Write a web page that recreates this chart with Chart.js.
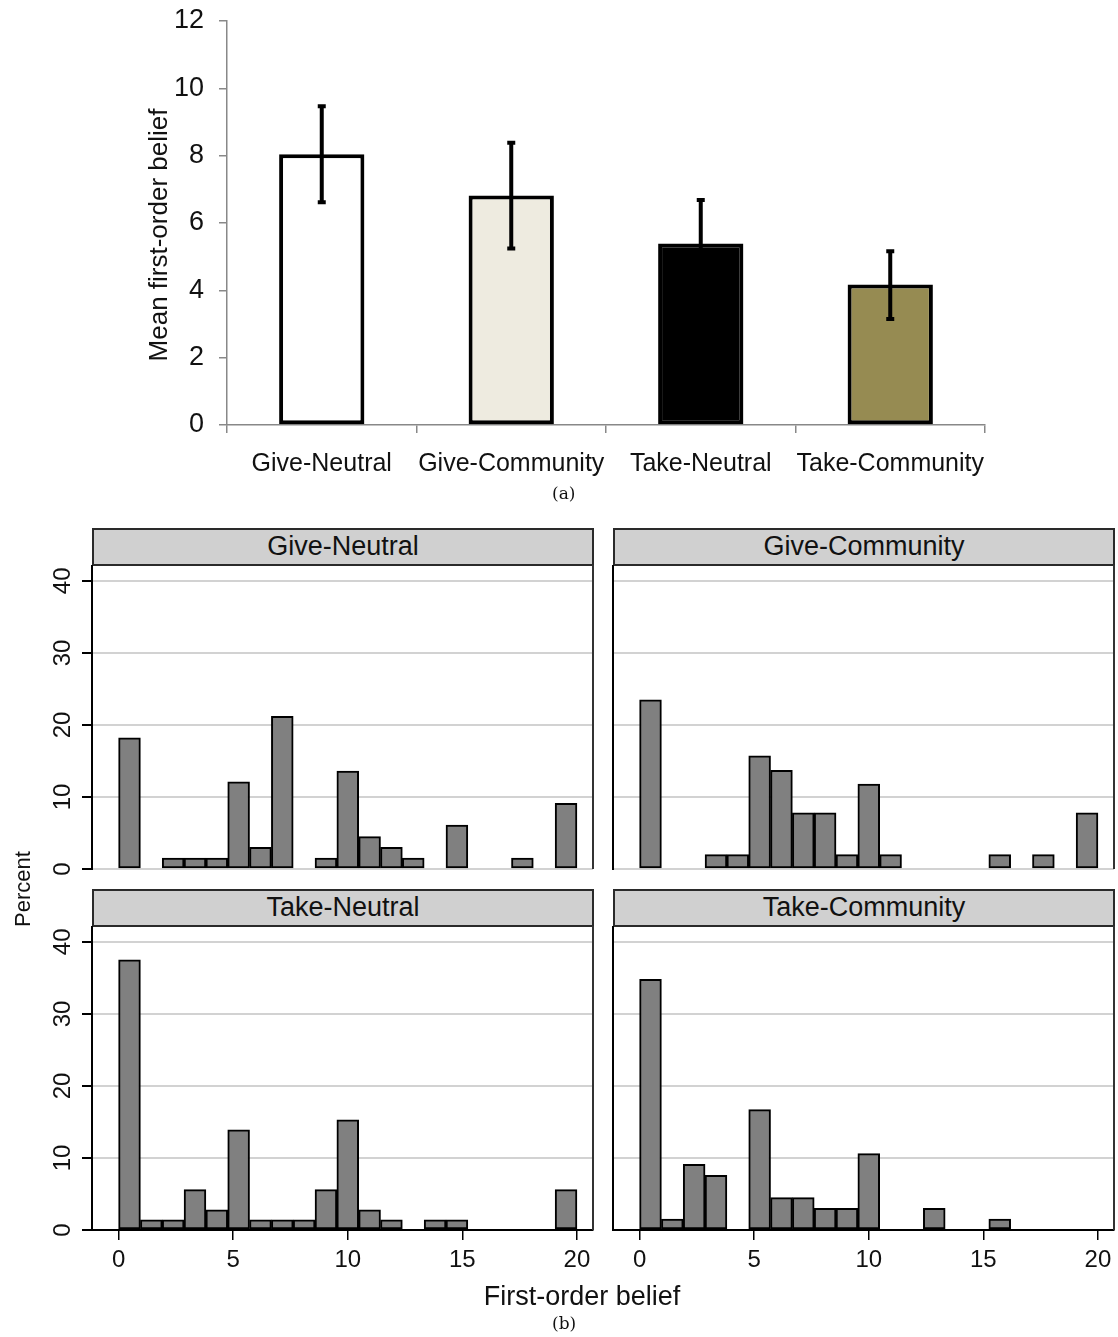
<!DOCTYPE html>
<html>
<head>
<meta charset="utf-8">
<script src="https://cdn.jsdelivr.net/npm/chart.js@4.4.1/dist/chart.umd.min.js"></script>
<style>
  body { margin: 0; background: #fff; font-family: "Liberation Sans", Arial, sans-serif; }
  #page { position: relative; width: 1118px; height: 1337px; overflow: hidden; }
  canvas { position: absolute; }
  .hdr { position: absolute; box-sizing: border-box; background: #d0d0d0; border: 2px solid #2a2a2a;
         font-size: 27px; color: #111; text-align: center; line-height: 33px; }
  .txt { position: absolute; color: #111; white-space: nowrap; }
  .serif { font-family: "DejaVu Serif", "Liberation Serif", serif; font-size: 17px; }
</style>
</head>
<body>
<div id="page">
  <canvas id="meanChart" width="1118" height="500" style="left:0;top:0"></canvas>
  <div class="txt" style="left:8px;top:220px;font-size:26px;transform:rotate(-90deg);width:300px;text-align:center;line-height:30px">Mean first-order belief</div>
  <div class="txt serif" style="left:552px;top:483px">(a)</div>

  <div class="hdr" style="left:92px;top:528px;width:502px;height:38px">Give-Neutral</div>
  <div class="hdr" style="left:613px;top:528px;width:502px;height:38px">Give-Community</div>
  <div class="hdr" style="left:92px;top:889px;width:502px;height:38px">Take-Neutral</div>
  <div class="hdr" style="left:613px;top:889px;width:502px;height:38px">Take-Community</div>

  <canvas id="h1" width="600" height="320" style="left:0;top:565px"></canvas>
  <canvas id="h2" width="518" height="320" style="left:600px;top:565px"></canvas>
  <canvas id="h3" width="600" height="360" style="left:0;top:926px"></canvas>
  <canvas id="h4" width="518" height="360" style="left:600px;top:926px"></canvas>

  <div class="txt" style="left:-17px;top:876px;font-size:22px;transform:rotate(-90deg);width:80px;text-align:center">Percent</div>
  <div class="txt" style="left:432px;top:1281px;font-size:27px;width:300px;text-align:center">First-order belief</div>
  <div class="txt serif" style="left:552px;top:1313px">(b)</div>
</div>

<script>
// (a) mean first-order belief by treatment
var treatments = ["Give-Neutral", "Give-Community", "Take-Neutral", "Take-Community"];
var meanBelief = [8.04, 6.82, 5.39, 4.17];
var ciLow = [6.62, 5.24, 4.10, 3.15];
var ciHigh = [9.47, 8.38, 6.68, 5.16];
var barColors = ["#ffffff", "#eeebe0", "#000000", "#968b52"];
var meanTicks = [0, 2, 4, 6, 8, 10, 12];

// (b) histograms, percent of subjects per belief 0..20
var beliefValues = [0, 1, 2, 3, 4, 5, 6, 7, 8, 9, 10, 11, 12, 13, 14, 15, 16, 17, 18, 19, 20];
var giveNeutral   = [18.2, 0, 1.5, 1.5, 1.5, 12.1, 3.0, 21.2, 0, 1.5, 13.6, 4.5, 3.0, 1.5, 0, 6.1, 0, 0, 1.5, 0, 9.1];
var giveCommunity = [23.5, 0, 0, 2.0, 2.0, 15.7, 13.7, 7.8, 7.8, 2.0, 11.8, 2.0, 0, 0, 0, 0, 2.0, 0, 2.0, 0, 7.8];
var takeNeutral   = [37.5, 1.4, 1.4, 5.6, 2.8, 13.9, 1.4, 1.4, 1.4, 5.6, 15.3, 2.8, 1.4, 0, 1.4, 1.4, 0, 0, 0, 0, 5.6];
var takeCommunity = [34.8, 1.5, 9.1, 7.6, 0, 16.7, 4.5, 4.5, 3.0, 3.0, 10.6, 0, 0, 3.0, 0, 0, 1.5, 0, 0, 0, 0];
var pctTicks = [0, 10, 20, 30, 40];
var beliefTicks = [0, 5, 10, 15, 20];

var FONT = "'Liberation Sans', Arial, sans-serif";

// error bars drawn from ciLow / ciHigh through the y scale
var errorBars = {
  id: 'errorBars',
  afterDatasetsDraw: function(chart) {
    var ctx = chart.ctx;
    var y = chart.scales.y;
    var meta = chart.getDatasetMeta(0);
    ctx.save();
    ctx.strokeStyle = '#000';
    ctx.lineWidth = 4;
    meta.data.forEach(function(bar, i) {
      var yl = y.getPixelForValue(ciLow[i]);
      var yh = y.getPixelForValue(ciHigh[i]);
      ctx.beginPath();
      ctx.moveTo(bar.x, yl); ctx.lineTo(bar.x, yh);
      ctx.moveTo(bar.x - 4, yl); ctx.lineTo(bar.x + 4, yl);
      ctx.moveTo(bar.x - 4, yh); ctx.lineTo(bar.x + 4, yh);
      ctx.stroke();
    });
    ctx.restore();
  }
};

new Chart(document.getElementById('meanChart'), {
  type: 'bar',
  data: {
    labels: treatments,
    datasets: [{
      data: meanBelief,
      backgroundColor: barColors,
      borderColor: '#000',
      borderWidth: 4,
      borderSkipped: false,
      barPercentage: 0.45,
      categoryPercentage: 1.0
    }]
  },
  options: {
    responsive: false,
    animation: false,
    devicePixelRatio: 1,
    layout: { padding: { top: 21, right: 133, left: 0, bottom: 0 } },
    plugins: { legend: { display: false }, tooltip: { enabled: false } },
    scales: {
      x: {
        afterFit: function(s) { s.height = 75; s.paddingLeft = 0; s.paddingRight = 0; },
        grid: { offset: true, drawOnChartArea: false, tickLength: 8, color: '#888', lineWidth: 1.5 },
        border: { color: '#888', width: 1.5 },
        ticks: { color: '#111', font: { family: FONT, size: 25 }, padding: 16, maxRotation: 0, autoSkip: false }
      },
      y: {
        min: 0, max: 12,
        afterFit: function(s) { s.width = 227; s.paddingTop = 0; s.paddingBottom = 0; },
        afterBuildTicks: function(s) { s.ticks = meanTicks.map(function(v) { return { value: v }; }); },
        grid: { drawOnChartArea: false, tickLength: 8, color: '#888', lineWidth: 1.5 },
        border: { color: '#888', width: 1.5 },
        ticks: { color: '#111', font: { family: FONT, size: 27 }, padding: 15 }
      }
    }
  },
  plugins: [errorBars]
});

// right edge of each histogram panel
var panelFrame = {
  id: 'panelFrame',
  afterDraw: function(chart) {
    var a = chart.chartArea, ctx = chart.ctx;
    ctx.save();
    ctx.strokeStyle = '#333';
    ctx.lineWidth = 2;
    ctx.beginPath();
    ctx.moveTo(a.right, a.top); ctx.lineTo(a.right, a.bottom);
    ctx.stroke();
    ctx.restore();
  }
};

function makeHist(id, values, showY, showX) {
  var binWidth = 20 / beliefValues.length;
  var points = beliefValues.map(function(b, i) {
    return { x: (b + 0.5) * binWidth, y: values[i] > 0 ? values[i] : null };
  });
  new Chart(document.getElementById(id), {
    type: 'bar',
    data: {
      datasets: [{
        data: points,
        backgroundColor: '#808080',
        borderColor: '#000',
        borderWidth: 2,
        borderSkipped: false,
        barPercentage: 1.0,
        categoryPercentage: 1.0
      }]
    },
    options: {
      responsive: false,
      animation: false,
      devicePixelRatio: 1,
      layout: { padding: { top: 0, right: showY ? 7 : 4, left: 0, bottom: showX ? 6 : 16 } },
      plugins: { legend: { display: false }, tooltip: { enabled: false } },
      scales: {
        x: {
          type: 'linear',
          offset: false,
          min: -1.16, max: 20.7,
          display: showX,
          afterFit: function(s) { s.height = showX ? 50 : 0; s.paddingLeft = 0; s.paddingRight = 0; },
          afterBuildTicks: function(s) { s.ticks = beliefTicks.map(function(v) { return { value: v }; }); },
          grid: { offset: false, drawOnChartArea: false, tickLength: 10, color: '#000', lineWidth: 1.5 },
          border: { color: '#000', width: 2 },
          ticks: { color: '#111', font: { family: FONT, size: 24 }, padding: 6, maxRotation: 0 }
        },
        y: {
          min: 0, max: 42.2,
          afterFit: function(s) { s.width = showY ? 92 : 13; s.paddingTop = 0; s.paddingBottom = 0; },
          afterBuildTicks: function(s) { s.ticks = pctTicks.map(function(v) { return { value: v }; }); },
          grid: { color: '#d2d2d2', lineWidth: 2, tickLength: showY ? 10 : 0, tickColor: '#000' },
          border: { color: '#000', width: 2 },
          ticks: { display: showY, color: '#111', font: { family: FONT, size: 24 },
                   minRotation: 90, maxRotation: 90, crossAlign: 'center', padding: 5 }
        }
      }
    },
    plugins: [panelFrame]
  });
}

makeHist('h1', giveNeutral, true, false);
makeHist('h2', giveCommunity, false, false);
makeHist('h3', takeNeutral, true, true);
makeHist('h4', takeCommunity, false, true);
</script>
</body>
</html>
